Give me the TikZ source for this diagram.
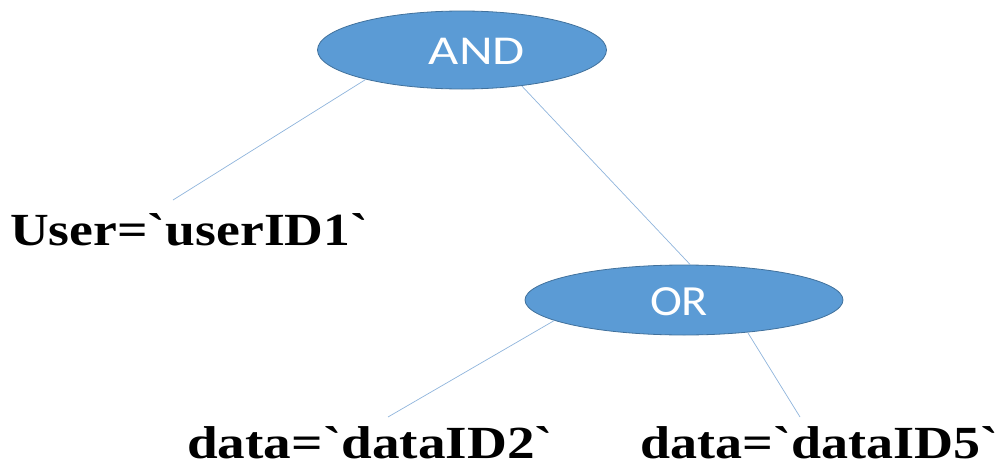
\documentclass[tikz,border=0pt]{standalone}
\usepackage{fontspec}
\usepackage{graphicx}
\setmainfont{Liberation Serif}
\newfontfamily\gatefont{Carlito}
\usetikzlibrary{shapes.geometric}
\definecolor{gatefill}{HTML}{5B9BD5}
\definecolor{gateedge}{HTML}{41719C}
\definecolor{edgeline}{HTML}{8FB4DC}
\newcommand{\bq}{\textasciigrave}
\tikzset{
  gate/.style={ellipse, fill=gatefill, draw=gateedge, line width=0.8pt, inner sep=0pt},
  gatetext/.style={anchor=base, text=white, inner sep=0pt, font=\gatefont},
  leaf/.style={anchor=base west, inner sep=0pt, font=\bfseries\fontsize{46}{50}\selectfont},
  branch/.style={draw=edgeline, line width=0.7pt},
}
\begin{document}
\begin{tikzpicture}[x=1pt, y=-1pt]
  \useasboundingbox (0,0) rectangle (1002,466);

  % logic gates
  \node[gate, minimum width=289pt, minimum height=78pt] (and) at (462,50) {};
  \node[gate, minimum width=318pt, minimum height=70pt] (or) at (684,300) {};
  \node[gatetext, font=\gatefont\fontsize{41}{45}\selectfont] (andlabel) at (477,64) {\resizebox{96pt}{\height}{AND}};
  \node[gatetext, font=\gatefont\fontsize{43}{47}\selectfont] (orlabel) at (679,315) {\resizebox{58pt}{\height}{OR}};

  % conditions
  \node[leaf] (user) at (10,245) {\resizebox{358pt}{\height}{User=\bq userID1\bq}};
  \node[leaf] (data2) at (187,458) {\resizebox{366pt}{\height}{data=\bq dataID2\bq}};
  \node[leaf] (data5) at (640,458) {\resizebox{358pt}{\height}{data=\bq dataID5\bq}};

  % free ends of the branches
  \coordinate (userend) at (173,200);
  \coordinate (data2end) at (388,417);
  \coordinate (data5end) at (800,417);

  \draw[branch] (and.197) -- (userend);
  \draw[branch] (and.-31) -- (or.80);
  \draw[branch] (or.189) -- (data2end);
  \draw[branch] (or.-27) -- (data5end);
\end{tikzpicture}
\end{document}
